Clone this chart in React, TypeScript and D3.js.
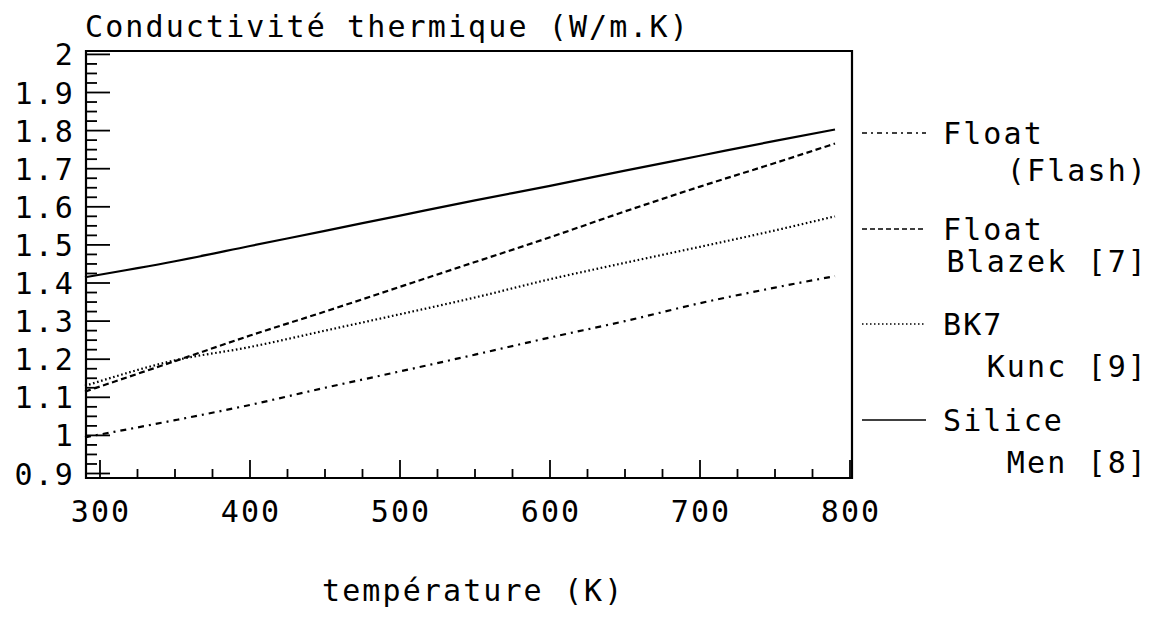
import React from "react";
import * as d3 from "d3";

// ---- data ----
const temperatures = [290, 350, 400, 450, 500, 550, 600, 650, 700, 750, 790];
const siliceMen = [1.415, 1.457, 1.497, 1.537, 1.577, 1.617, 1.655, 1.695, 1.734, 1.773, 1.803];
const floatBlazek = [1.115, 1.195, 1.262, 1.325, 1.39, 1.455, 1.52, 1.588, 1.653, 1.715, 1.766];
const bk7Kunc = [1.13, 1.197, 1.232, 1.275, 1.318, 1.362, 1.41, 1.453, 1.495, 1.538, 1.575];
const floatFlash = [0.995, 1.04, 1.08, 1.125, 1.168, 1.212, 1.257, 1.3, 1.347, 1.388, 1.418];

const xTickValues = [300, 400, 500, 600, 700, 800];
const yTickValues = [0.9, 1, 1.1, 1.2, 1.3, 1.4, 1.5, 1.6, 1.7, 1.8, 1.9, 2];
const seriesNames = ["floatFlash", "floatBlazek", "bk7Kunc", "siliceMen"];
const legendLine1 = ["Float", "Float", "BK7", "Silice"];
const legendLine2 = ["(Flash)", "Blazek [7]", "Kunc [9]", "Men [8]"];
const yTitle = "Conductivité thermique (W/m.K)";
const xTitle = "température (K)";

const seriesValues: Record<string, number[]> = {
  floatFlash,
  floatBlazek,
  bk7Kunc,
  siliceMen,
};

// ---- styles ----
const dashStyles: Record<string, string> = {
  floatFlash: "6,5,2,5",
  floatBlazek: "6,3.5",
  bk7Kunc: "1.6,2.6",
  siliceMen: "none",
};
const legendDash: Record<string, string> = {
  floatFlash: "5,4,2,4",
  floatBlazek: "5,3",
  bk7Kunc: "1.5,2.5",
  siliceMen: "none",
};
const legendSampleY = [133, 229, 324, 420];
const legendSecondOffset = [48, 43, 53, 53];

const FONT = "'DejaVu Sans Mono', monospace";
const FS = 30;
const LS = 2.1;

export default function App() {
  const W = 1155;
  const H = 621;
  const left = 86;
  const right = 852;
  const top = 51;
  const bottom = 478;

  const x = d3.scaleLinear().domain([290.67, 801.33]).range([left, right]);
  const y = d3.scaleLinear().domain([0.9, 2.0]).range([473.5, 54.4]);

  const line = d3
    .line<number>()
    .x((_, i) => x(temperatures[i]))
    .y((d) => y(d))
    .curve(d3.curveMonotoneX);

  const yMinor = d3.range(0, 45).map((i) => 0.9 + i * 0.025).filter((v) => y(v) > top + 1);
  const xMinor = d3.range(0, 21).map((i) => 300 + i * 25).filter((v) => x(v) < right - 1);

  const textProps = { fontSize: FS, letterSpacing: LS, fill: "#000" };

  return (
    <svg
      width={W}
      height={H}
      style={{ position: "absolute", left: 0, top: 0, background: "#fff" }}
      fontFamily={FONT}
    >
      <rect x={0} y={0} width={W} height={H} fill="#fff" />
      {/* frame */}
      <path
        d={`M${left},${top}H${right}V${bottom}H${left}Z`}
        fill="none"
        stroke="#000"
        strokeWidth={2.2}
      />
      {/* y ticks */}
      {yMinor.map((v, i) => {
        const major = Math.abs(v * 10 - Math.round(v * 10)) < 1e-6;
        return (
          <line
            key={"ym" + i}
            x1={left}
            x2={left + (major ? 24 : 11)}
            y1={y(v)}
            y2={y(v)}
            stroke="#000"
            strokeWidth={1.8}
          />
        );
      })}
      {/* x ticks */}
      {xMinor.map((v, i) => {
        const major = v % 100 === 0;
        return (
          <line
            key={"xm" + i}
            x1={x(v)}
            x2={x(v)}
            y1={bottom}
            y2={bottom - (major ? 18 : 9)}
            stroke="#000"
            strokeWidth={1.8}
          />
        );
      })}
      {/* y labels */}
      {yTickValues.map((v) => (
        <text key={"yl" + v} x={75} y={y(v) + 11} textAnchor="end" {...textProps}>
          {String(v)}
        </text>
      ))}
      {/* x labels */}
      {xTickValues.map((v) => (
        <text key={"xl" + v} x={x(v) + 1} y={522} textAnchor="middle" {...textProps}>
          {String(v)}
        </text>
      ))}
      {/* titles */}
      <text x={85} y={37} {...textProps}>
        {yTitle}
      </text>
      <text x={322} y={601} {...textProps}>
        {xTitle}
      </text>
      {/* data lines */}
      {seriesNames.map((name) => (
        <path
          key={name}
          d={line(seriesValues[name]) || ""}
          fill="none"
          stroke="#000"
          strokeWidth={2.2}
          strokeDasharray={dashStyles[name]}
        />
      ))}
      {/* legend */}
      {seriesNames.map((name, i) => (
        <g key={"lg" + name}>
          <line
            x1={862}
            x2={926}
            y1={legendSampleY[i]}
            y2={legendSampleY[i]}
            stroke="#000"
            strokeWidth={1.5}
            strokeDasharray={legendDash[name]}
          />
          <text x={943} y={legendSampleY[i] + 11} {...textProps}>
            {legendLine1[i]}
          </text>
          <text
            x={1148}
            y={legendSampleY[i] + legendSecondOffset[i]}
            textAnchor="end"
            {...textProps}
          >
            {legendLine2[i]}
          </text>
        </g>
      ))}
    </svg>
  );
}
